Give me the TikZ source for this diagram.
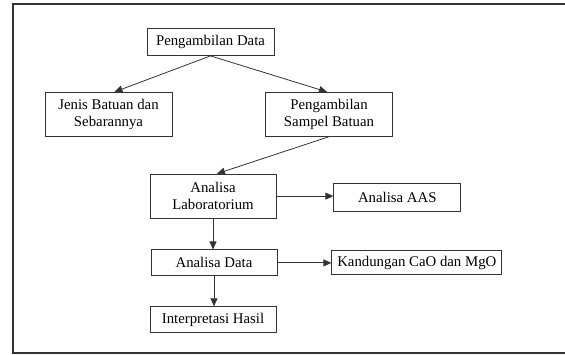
\documentclass[tikz,border=0pt]{standalone}
\usepackage{fontspec}
\setmainfont{Liberation Serif}
\usepackage{tikz}
\usetikzlibrary{arrows.meta, positioning}
\definecolor{LineGray}{HTML}{333333}
\tikzset{
  flow box/.style={rectangle, draw=LineGray, line width=0.8pt, align=center,
                   minimum width=127pt, minimum height=27pt, inner sep=4pt,
                   font=\fontsize{14.8}{17}\selectfont},
  tall box/.style={flow box, minimum height=44pt},
  flow edge/.style={-{Triangle[length=8pt, width=7pt]}, draw=LineGray, line width=0.8pt},
}

\begin{document}
\begin{tikzpicture}
  \useasboundingbox (0,0) rectangle (565pt,-355pt);
  \draw[LineGray, line width=1.5pt] (580pt,-4pt) -- (13pt,-4pt) -- (13pt,-353pt) -- (580pt,-353pt);
  \node[flow box] (data) at (210.5pt,-42pt) {Pengambilan Data};
  \node[tall box, below=36pt of data, xshift=-102pt] (jenis) {Jenis Batuan dan\\Sebarannya};
  \node[tall box, below=36pt of data, xshift=118.5pt] (sampel) {Pengambilan\\Sampel Batuan};
  \node[tall box, minimum width=126pt, below=37pt of sampel, xshift=-116pt] (lab) {Analisa\\Laboratorium};
  \node[flow box, minimum height=28pt, right=57pt of lab, yshift=-1.5pt] (aas) {Analisa AAS};
  \node[flow box, minimum width=126pt, minimum height=26pt, below=31pt of lab, xshift=1pt] (adata) {Analisa Data};
  \node[flow box, minimum width=170pt, minimum height=24pt, right=54pt of adata] (kand) {Kandungan CaO dan MgO};
  \node[flow box, minimum width=126pt, minimum height=26pt, below=30pt of adata, xshift=-1pt] (interp) {Interpretasi Hasil};
  \draw[flow edge] (data.south) -- ([xshift=6pt]jenis.north);
  \draw[flow edge] (data.south) -- ([xshift=-2pt]sampel.north);
  \draw[flow edge] (sampel.south) -- ([xshift=4pt]lab.north);
  \draw[flow edge] (lab.south) -- (lab.south |- adata.north);
  \draw[flow edge] (lab.east) -- (lab.east -| aas.west);
  \draw[flow edge] (adata.east) -- (kand.west);
  \draw[flow edge] (adata.south) -- (adata.south |- interp.north);
\end{tikzpicture}
\end{document}
